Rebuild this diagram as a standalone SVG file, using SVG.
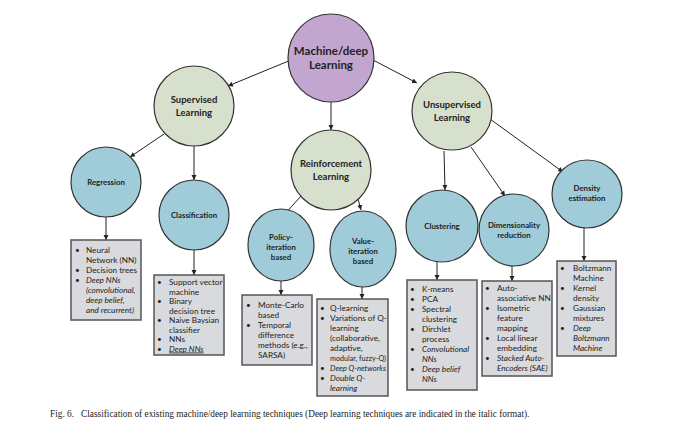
<svg xmlns="http://www.w3.org/2000/svg" width="693" height="428" viewBox="0 0 693 428">
<style>
.c{stroke:#333;stroke-width:1.2}
.p{fill:#c3a6d0}.g{fill:#d7dfcd}.b{fill:#a0ccda}
.t{font-family:Lato,"Liberation Sans",sans-serif;font-weight:bold;fill:#222;text-anchor:middle}
.bx{fill:#d9dadd;stroke:#555;stroke-width:1.5}
.l{font-family:Lato,"Liberation Sans",sans-serif;font-size:8.2px;fill:#222}
.i{font-style:italic}
.ln{stroke:#222;stroke-width:1;fill:none;marker-end:url(#a)}
</style>
<defs><marker id="a" markerWidth="6" markerHeight="6" refX="5" refY="3" orient="auto" markerUnits="userSpaceOnUse"><path d="M0,0.5L5,3L0,5.5z" fill="#222"/></marker></defs>
<rect width="693" height="428" fill="#fff"/>
<g id="connectors">
<line class="ln" x1="291" y1="60" x2="228" y2="86"/>
<line class="ln" x1="373" y1="60" x2="417" y2="83"/>
<line class="ln" x1="331" y1="102" x2="331" y2="130"/>
<line class="ln" x1="164" y1="134" x2="130" y2="157"/>
<line class="ln" x1="194" y1="146" x2="194" y2="180"/>
<line class="ln" x1="301" y1="196" x2="284" y2="215"/>
<line class="ln" x1="358" y1="199" x2="361" y2="210"/>
<line class="ln" x1="444" y1="151" x2="445" y2="190"/>
<line class="ln" x1="471" y1="147" x2="505" y2="196"/>
<line class="ln" x1="490" y1="119" x2="563" y2="172"/>
<line class="ln" x1="106" y1="217" x2="106" y2="240"/>
<line class="ln" x1="194" y1="250" x2="194" y2="275"/>
<line class="ln" x1="281" y1="280" x2="281" y2="295"/>
<line class="ln" x1="362" y1="287" x2="362" y2="299"/>
<line class="ln" x1="437" y1="262" x2="437" y2="280"/>
<line class="ln" x1="512" y1="266" x2="512" y2="281"/>
<line class="ln" x1="584" y1="228" x2="584" y2="261"/>
</g>
<g id="root"><ellipse class="c p" cx="331" cy="58" rx="43" ry="44"/><text class="t" font-size="11.5" x="331" y="55">Machine/deep</text><text class="t" font-size="11.5" x="331" y="69">Learning</text></g>
<g id="supervised"><ellipse class="c g" cx="194" cy="106" rx="40" ry="40"/><text class="t" font-size="9.5" x="194" y="103">Supervised</text><text class="t" font-size="9.5" x="194" y="116">Learning</text></g>
<g id="unsupervised"><ellipse class="c g" cx="452" cy="111" rx="40" ry="39"/><text class="t" font-size="9.5" x="452" y="108">Unsupervised</text><text class="t" font-size="9.5" x="452" y="121">Learning</text></g>
<g id="reinforcement"><ellipse class="c g" cx="331" cy="170" rx="40" ry="40"/><text class="t" font-size="9.5" x="331" y="167">Reinforcement</text><text class="t" font-size="9.5" x="331" y="180">Learning</text></g>
<g id="regression"><ellipse class="c b" cx="106" cy="182" rx="35" ry="35"/><text class="t" font-size="7.8" x="106" y="185">Regression</text></g>
<g id="classification"><ellipse class="c b" cx="194" cy="215" rx="35" ry="35"/><text class="t" font-size="7.8" x="194" y="218">Classification</text></g>
<g id="policy"><ellipse class="c b" cx="281" cy="245" rx="33" ry="36"/><text class="t" font-size="7.8" x="281" y="240">Policy-</text><text class="t" font-size="7.8" x="281" y="250">iteration</text><text class="t" font-size="7.8" x="281" y="260">based</text></g>
<g id="value"><ellipse class="c b" cx="363" cy="249" rx="33" ry="38"/><text class="t" font-size="7.8" x="363" y="244">Value-</text><text class="t" font-size="7.8" x="363" y="254">iteration</text><text class="t" font-size="7.8" x="363" y="264">based</text></g>
<g id="clustering"><ellipse class="c b" cx="442" cy="226" rx="36" ry="36"/><text class="t" font-size="7.8" x="442" y="229">Clustering</text></g>
<g id="dimensionality"><ellipse class="c b" cx="514" cy="230" rx="35" ry="36"/><text class="t" font-size="7.8" x="514" y="228">Dimensionality</text><text class="t" font-size="7.8" x="514" y="238">reduction</text></g>
<g id="density"><ellipse class="c b" cx="587" cy="194" rx="35" ry="34"/><text class="t" font-size="7.8" x="587" y="191">Density</text><text class="t" font-size="7.8" x="587" y="201">estimation</text></g>
<g id="box-regression"><rect class="bx" x="71" y="240" width="70" height="80"/>
<text class="l" x="75" y="253">•</text><text class="l" x="86" y="253">Neural</text><text class="l" x="86" y="263">Network (NN)</text>
<text class="l" x="75" y="273">•</text><text class="l" x="86" y="273">Decision trees</text>
<text class="l" x="75" y="283">•</text><text class="l i" x="86" y="283">Deep NNs</text><text class="l i" x="86" y="293">(convolutional,</text><text class="l i" x="86" y="303">deep belief,</text><text class="l i" x="86" y="313">and recurrent)</text></g>
<g id="box-classification"><rect class="bx" x="154" y="275" width="70" height="80"/>
<text class="l" x="157" y="285">•</text><text class="l" x="169" y="285">Support vector</text><text class="l" x="169" y="294.5">machine</text>
<text class="l" x="157" y="304">•</text><text class="l" x="169" y="304">Binary</text><text class="l" x="169" y="313.5">decision tree</text>
<text class="l" x="157" y="323">•</text><text class="l" x="169" y="323">Naive Baysian</text><text class="l" x="169" y="332.5">classifier</text>
<text class="l" x="157" y="342">•</text><text class="l" x="169" y="342">NNs</text>
<text class="l" x="157" y="351.5">•</text><text class="l i" x="169" y="351.5" text-decoration="underline">Deep NNs</text></g>
<g id="box-policy"><rect class="bx" x="242" y="295" width="70" height="70"/>
<text class="l" x="246" y="308">•</text><text class="l" x="258" y="308">Monte-Carlo</text><text class="l" x="258" y="318">based</text>
<text class="l" x="246" y="328">•</text><text class="l" x="258" y="328">Temporal</text><text class="l" x="258" y="338">difference</text><text class="l" x="258" y="348">methods (e.g.,</text><text class="l" x="258" y="358">SARSA)</text></g>
<g id="box-value"><rect class="bx" x="317" y="299" width="71" height="97"/>
<text class="l" x="320" y="311">•</text><text class="l" x="330" y="311">Q-learning</text>
<text class="l" x="320" y="321">•</text><text class="l" x="330" y="321">Variations of Q-</text><text class="l" x="330" y="331">learning</text><text class="l" x="330" y="341">(collaborative,</text><text class="l" x="330" y="351">adaptive,</text><text class="l" x="330" y="361" textLength="56" lengthAdjust="spacingAndGlyphs">modular, fuzzy-Q)</text>
<text class="l" x="320" y="371">•</text><text class="l i" x="330" y="371" textLength="56" lengthAdjust="spacingAndGlyphs">Deep Q-networks</text>
<text class="l" x="320" y="381">•</text><text class="l i" x="330" y="381">Double Q-</text><text class="l i" x="330" y="391">learning</text></g>
<g id="box-clustering"><rect class="bx" x="407" y="280" width="70" height="110"/>
<text class="l" x="410" y="292">•</text><text class="l" x="422" y="292">K-means</text>
<text class="l" x="410" y="302">•</text><text class="l" x="422" y="302">PCA</text>
<text class="l" x="410" y="312">•</text><text class="l" x="422" y="312">Spectral</text><text class="l" x="422" y="322">clustering</text>
<text class="l" x="410" y="332">•</text><text class="l" x="422" y="332">Dirchlet</text><text class="l" x="422" y="342">process</text>
<text class="l" x="410" y="352">•</text><text class="l i" x="422" y="352">Convolutional</text><text class="l i" x="422" y="362">NNs</text>
<text class="l" x="410" y="372">•</text><text class="l i" x="422" y="372">Deep belief</text><text class="l i" x="422" y="382">NNs</text></g>
<g id="box-dimensionality"><rect class="bx" x="482" y="281" width="70" height="95"/>
<text class="l" x="485" y="291">•</text><text class="l" x="497" y="291">Auto-</text><text class="l" x="497" y="301">associative NN</text>
<text class="l" x="485" y="311">•</text><text class="l" x="497" y="311">Isometric</text><text class="l" x="497" y="321">feature</text><text class="l" x="497" y="331">mapping</text>
<text class="l" x="485" y="341">•</text><text class="l" x="497" y="341">Local linear</text><text class="l" x="497" y="351">embedding</text>
<text class="l" x="485" y="361">•</text><text class="l i" x="497" y="361">Stacked Auto-</text><text class="l i" x="497" y="371">Encoders (SAE)</text></g>
<g id="box-density"><rect class="bx" x="557" y="261" width="59" height="95"/>
<text class="l" x="560" y="271">•</text><text class="l" x="573" y="271">Boltzmann</text><text class="l" x="573" y="281">Machine</text>
<text class="l" x="560" y="291">•</text><text class="l" x="573" y="291">Kernel</text><text class="l" x="573" y="301">density</text>
<text class="l" x="560" y="311">•</text><text class="l" x="573" y="311">Gaussian</text><text class="l" x="573" y="321">mixtures</text>
<text class="l" x="560" y="331">•</text><text class="l i" x="573" y="331">Deep</text><text class="l i" x="573" y="341">Boltzmann</text><text class="l i" x="573" y="351">Machine</text></g>
<text x="50" y="417" font-family="Liberation Serif,serif" font-size="9.3" fill="#222" xml:space="preserve">Fig. 6.   Classification of existing machine/deep learning techniques (Deep learning techniques are indicated in the italic format).</text>
</svg>
